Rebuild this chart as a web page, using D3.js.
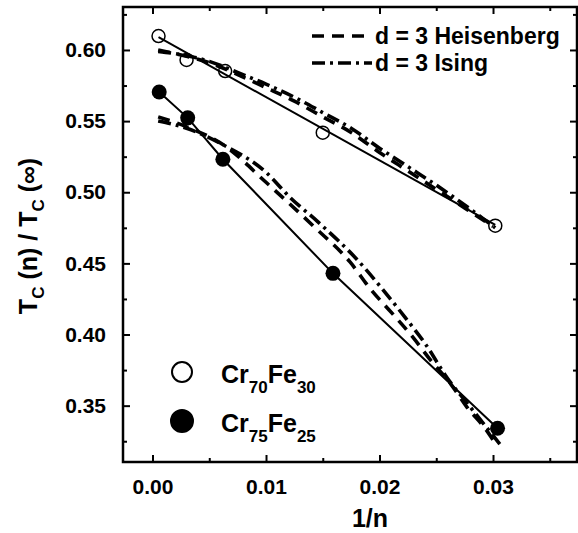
<!DOCTYPE html>
<html><head><meta charset="utf-8">
<script src="https://cdn.jsdelivr.net/npm/d3@7/dist/d3.min.js"></script>
<style>
html,body{margin:0;padding:0;background:#fff;}
svg{display:block;font-family:"Liberation Sans",Arial,sans-serif;font-weight:bold;}
</style></head>
<body><svg id="c" width="578" height="533"></svg>
<script>
// ---- data ----
const xTicks = [0.00, 0.01, 0.02, 0.03];
const xTickLabels = ["0.00", "0.01", "0.02", "0.03"];
const xMinor = [0.005, 0.015, 0.025, 0.035];
const yTicks = [0.35, 0.40, 0.45, 0.50, 0.55, 0.60];
const yTickLabels = ["0.35", "0.40", "0.45", "0.50", "0.55", "0.60"];
const yMinor = [0.325, 0.375, 0.425, 0.475, 0.525, 0.575, 0.625];

// Cr70Fe30 (open circles)
const open_x = [0.00053, 0.0030, 0.0064, 0.0150, 0.0302];
const open_y = [0.6098, 0.5930, 0.5852, 0.5419, 0.4765];
// straight fit line through Cr70Fe30
const openFit_x = [0.00053, 0.0302];
const openFit_y = [0.6090, 0.4770];

// Cr75Fe25 (filled circles)
const fill_x = [0.00059, 0.0031, 0.0062, 0.0159, 0.0304];
const fill_y = [0.5705, 0.5523, 0.5232, 0.4430, 0.3341];

// d = 3 Heisenberg curves
const heisU_x = [0.0005, 0.0030, 0.0050, 0.0077, 0.0100, 0.0125, 0.0150, 0.0175, 0.0200, 0.0225, 0.0250, 0.0275, 0.0300];
const heisU_y = [0.6000, 0.5955, 0.5910, 0.5820, 0.5735, 0.5640, 0.5530, 0.5420, 0.5280, 0.5150, 0.5020, 0.4890, 0.4760];
const heisL_x = [0.0005, 0.0030, 0.0063, 0.0100, 0.0142, 0.0174, 0.0192, 0.0211, 0.0229, 0.0245, 0.0263, 0.0277, 0.0294, 0.0300];
const heisL_y = [0.5530, 0.5460, 0.5330, 0.5070, 0.4760, 0.4510, 0.4320, 0.4150, 0.3985, 0.3820, 0.3650, 0.3490, 0.3330, 0.3260];

// d = 3 Ising curves
const isingU_x = [0.0005, 0.0030, 0.0050, 0.0077, 0.0100, 0.0127, 0.0150, 0.0175, 0.0200, 0.0225, 0.0250, 0.0275, 0.0302];
const isingU_y = [0.5990, 0.5960, 0.5920, 0.5835, 0.5760, 0.5660, 0.5560, 0.5450, 0.5310, 0.5180, 0.5050, 0.4910, 0.4750];
const isingL_x = [0.0005, 0.0030, 0.0063, 0.0100, 0.0121, 0.0146, 0.0181, 0.0202, 0.0222, 0.0241, 0.0260, 0.0277, 0.0294, 0.0306];
const isingL_y = [0.5500, 0.5450, 0.5330, 0.5140, 0.4965, 0.4790, 0.4520, 0.4325, 0.4126, 0.3927, 0.3690, 0.3520, 0.3350, 0.3230];

const legendTop = ["d = 3 Heisenberg", "d = 3 Ising"];
const legendSeries = [["Cr", "70", "Fe", "30"], ["Cr", "75", "Fe", "25"]];

// ---- layout ----
const L = 123, R = 577, T = 7, B = 462;
const x = d3.scaleLinear().domain([-0.0026, 0.0374]).range([L, R]);
const y = d3.scaleLinear().domain([0.3104, 0.6302]).range([B, T]);
const svg = d3.select("#c");

const zip = (xs, ys) => xs.map((v, i) => [v, ys[i]]);
const line = d3.line().x(d => x(d[0])).y(d => y(d[1]));
const smooth = d3.line().x(d => x(d[0])).y(d => y(d[1])).curve(d3.curveMonotoneX);

// axes
const tickFmt = (labels, vals) => (d) => labels[vals.indexOf(d)];
const axB = d3.axisBottom(x).tickValues(xTicks).tickFormat(tickFmt(xTickLabels, xTicks)).tickSizeInner(-7).tickSizeOuter(0).tickPadding(17);
const axL = d3.axisLeft(y).tickValues(yTicks).tickFormat(tickFmt(yTickLabels, yTicks)).tickSizeInner(-7).tickSizeOuter(0).tickPadding(17);
svg.append("g").attr("transform", `translate(0,${B})`).call(axB);
svg.append("g").attr("transform", `translate(${L},0)`).call(axL);
svg.append("g").attr("transform", `translate(0,${T})`).call(d3.axisTop(x).tickValues(xTicks).tickFormat("").tickSizeInner(-7).tickSizeOuter(0));
svg.append("g").attr("transform", `translate(${R},0)`).call(d3.axisRight(y).tickValues(yTicks).tickFormat("").tickSizeInner(-7).tickSizeOuter(0));
// minor ticks
svg.append("g").attr("transform", `translate(0,${B})`).call(d3.axisBottom(x).tickValues(xMinor).tickFormat("").tickSizeInner(-4).tickSizeOuter(0));
svg.append("g").attr("transform", `translate(0,${T})`).call(d3.axisTop(x).tickValues(xMinor).tickFormat("").tickSizeInner(-4).tickSizeOuter(0));
svg.append("g").attr("transform", `translate(${L},0)`).call(d3.axisLeft(y).tickValues(yMinor).tickFormat("").tickSizeInner(-4).tickSizeOuter(0));
svg.append("g").attr("transform", `translate(${R},0)`).call(d3.axisRight(y).tickValues(yMinor).tickFormat("").tickSizeInner(-4).tickSizeOuter(0));
svg.selectAll(".domain").remove();
svg.selectAll(".tick line").attr("stroke", "#000").attr("stroke-width", 2);
svg.selectAll(".tick text").attr("font-size", 21).attr("font-weight", "bold").attr("font-family", "Liberation Sans, Arial, sans-serif").attr("fill", "#000");

// frame
svg.append("rect").attr("x", L).attr("y", T).attr("width", R - L).attr("height", B - T)
  .attr("fill", "none").attr("stroke", "#000").attr("stroke-width", 2.5);

// curves
const dashH = "12,8", dashI = "13,5,3,5";
[[heisU_x, heisU_y], [heisL_x, heisL_y]].forEach(([xs, ys]) =>
  svg.append("path").attr("d", smooth(zip(xs, ys))).attr("fill", "none").attr("stroke", "#000")
    .attr("stroke-width", 3.6).attr("stroke-dasharray", dashH));
[[isingU_x, isingU_y], [isingL_x, isingL_y]].forEach(([xs, ys]) =>
  svg.append("path").attr("d", smooth(zip(xs, ys))).attr("fill", "none").attr("stroke", "#000")
    .attr("stroke-width", 3.6).attr("stroke-dasharray", dashI));

// solid lines
svg.append("path").attr("d", line(zip(openFit_x, openFit_y))).attr("fill", "none").attr("stroke", "#000").attr("stroke-width", 2);
svg.append("path").attr("d", line(zip(fill_x, fill_y))).attr("fill", "none").attr("stroke", "#000").attr("stroke-width", 2);

// points
svg.append("g").selectAll("circle").data(zip(open_x, open_y)).join("circle")
  .attr("cx", d => x(d[0])).attr("cy", d => y(d[1])).attr("r", 6.5)
  .attr("fill", "none").attr("stroke", "#000").attr("stroke-width", 1.5);
svg.append("g").selectAll("circle").data(zip(fill_x, fill_y)).join("circle")
  .attr("cx", d => x(d[0])).attr("cy", d => y(d[1])).attr("r", 7.5).attr("fill", "#000");

// top-right legend
const lg = svg.append("g");
[dashH, dashI].forEach((dash, i) => {
  const yy = 36 + i * 27;
  lg.append("line").attr("x1", 312).attr("x2", 372).attr("y1", yy).attr("y2", yy)
    .attr("stroke", "#000").attr("stroke-width", 3.6).attr("stroke-dasharray", dash);
  lg.append("text").attr("x", 375).attr("y", yy + 8).attr("font-size", 23).text(legendTop[i]);
});

// bottom-left legend
const lg2 = svg.append("g");
legendSeries.forEach((parts, i) => {
  const cy = 372 + i * 49;
  lg2.append("circle").attr("cx", 182).attr("cy", cy).attr("r", i ? 11 : 10)
    .attr("fill", i ? "#000" : "#fff").attr("stroke", "#000").attr("stroke-width", 2);
  const t = lg2.append("text").attr("x", 221).attr("y", cy + 11).attr("font-size", 25);
  t.append("tspan").text(parts[0]);
  t.append("tspan").attr("font-size", 17).attr("dy", 10).text(parts[1]);
  t.append("tspan").attr("dy", -10).text(parts[2]);
  t.append("tspan").attr("font-size", 17).attr("dy", 10).text(parts[3]);
});

// axis titles
svg.append("text").attr("x", 370).attr("y", 527).attr("text-anchor", "middle").attr("font-size", 25).text("1/n");
const yt = svg.append("text").attr("transform", `translate(37,236) rotate(-90)`).attr("text-anchor", "middle").attr("font-size", 25);
yt.append("tspan").text("T");
yt.append("tspan").attr("font-size", 17).attr("dy", 7).text("C");
yt.append("tspan").attr("dy", -7).text(" (n) / T");
yt.append("tspan").attr("font-size", 17).attr("dy", 7).text("C");
yt.append("tspan").attr("dy", -7).text(" (\u221E)");
</script></body></html>
